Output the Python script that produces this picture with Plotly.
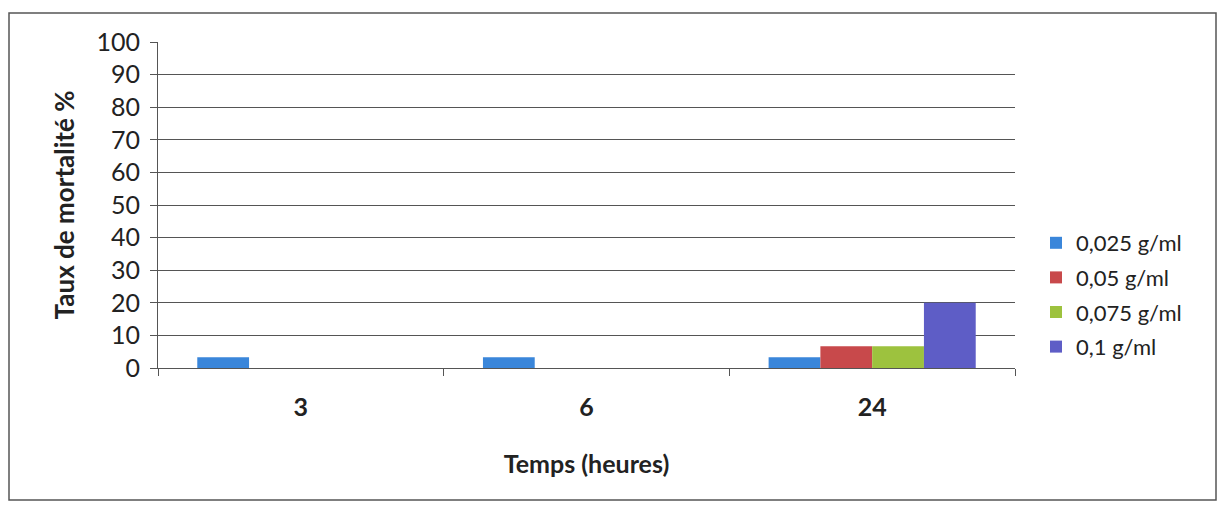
import plotly.graph_objects as go

categories = ["3", "6", "24"]
series_names = ["0,025 g/ml", "0,05 g/ml", "0,075 g/ml", "0,1 g/ml"]
v_0025 = [3.33, 3.33, 3.33]
v_005 = [0, 0, 6.67]
v_0075 = [0, 0, 6.67]
v_01 = [0, 0, 20.0]
y_ticks = [0, 10, 20, 30, 40, 50, 60, 70, 80, 90, 100]

colors = ["#3A86DA", "#C8494B", "#9DC23E", "#5E5DC6"]
values = [v_0025, v_005, v_0075, v_01]

FONT = "Lato"
W, H = 1218, 506
L, R, T, B = 158, 1015, 42, 368

fig = go.Figure()
for i, (name, vals, col) in enumerate(zip(series_names, values, colors)):
    fig.add_trace(go.Bar(
        x=categories, y=vals, name=name, legendgroup=f"g{i}",
        marker=dict(color=col, line=dict(width=0)),
    ))

pw, ph = R - L, B - T
def px(p):
    return (p - L) / pw
def py(q):
    return (B - q) / ph

fig.update_layout(
    width=W, height=H,
    margin=dict(l=L, r=W - R, t=T, b=H - B),
    paper_bgcolor="white", plot_bgcolor="white",
    barmode="group", bargap=0.275, bargroupgap=0,
    font=dict(family=FONT, color="#222"),
    showlegend=True,
    legend=dict(
        x=px(1036), y=py(295), xanchor="left", yanchor="middle",
        font=dict(family=FONT, size=22, color="#222"),
        tracegroupgap=3, bgcolor="rgba(0,0,0,0)",
    ),
    xaxis=dict(
        type="category", categoryorder="array", categoryarray=categories,
        showgrid=False, showline=True, linecolor="#555", linewidth=1,
        ticks="outside", tickson="boundaries", ticklen=7, tickcolor="#555",
        ticklabelstandoff=17,
        tickfont=dict(family=FONT, size=25, color="#222", weight="bold"),
        title=dict(text="<b>Temps (heures)</b>", font=dict(family=FONT, size=25, color="#222"), standoff=35),
    ),
    yaxis=dict(
        range=[0, 100], tickvals=y_ticks, ticktext=[str(t) for t in y_ticks],
        showgrid=True, gridcolor="#555", gridwidth=1,
        showline=True, linecolor="#555", linewidth=1,
        ticks="outside", ticklen=7, tickcolor="#555",
        ticklabelstandoff=5,
        zeroline=True, zerolinecolor="#555", zerolinewidth=1,
        tickfont=dict(family=FONT, size=25, color="#222"),
        title=dict(text="<b>Taux de mortalité %</b>", font=dict(family=FONT, size=26, color="#222"), standoff=14),
    ),
    shapes=[dict(
        type="rect", xref="paper", yref="paper",
        x0=px(9), x1=px(1216), y0=py(500), y1=py(13),
        line=dict(color="#555", width=1.5), fillcolor="rgba(0,0,0,0)",
    )],
)

fig.write_html("out.html")
